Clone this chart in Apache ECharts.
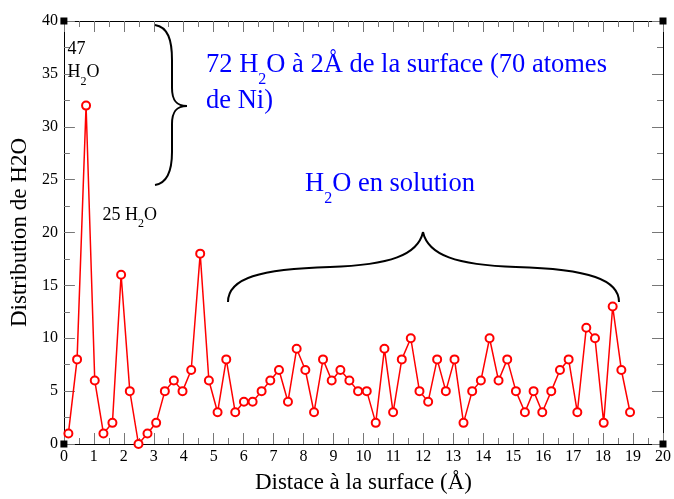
<!DOCTYPE html>
<html><head><meta charset="utf-8">
<script src="https://cdn.jsdelivr.net/npm/echarts@6/dist/echarts.min.js"></script>
<style>html,body{margin:0;padding:0;background:#fff}#c{width:674px;height:499px}</style>
</head><body><div id="c"></div>
<script>
// Data
const distances = [0.15,0.44,0.74,1.03,1.32,1.62,1.91,2.20,2.49,2.79,3.08,3.37,3.67,3.96,4.25,4.55,4.84,5.13,5.42,5.72,6.01,6.30,6.60,6.89,7.18,7.48,7.77,8.06,8.35,8.65,8.94,9.23,9.53,9.82,10.11,10.41,10.70,10.99,11.28,11.58,11.87,12.16,12.46,12.75,13.04,13.34,13.63,13.92,14.21,14.51,14.80,15.09,15.39,15.68,15.97,16.27,16.56,16.85,17.14,17.44,17.73,18.02,18.32,18.61,18.90];
const counts = [1,8,32,6,1,2,16,5,0,1,2,5,6,5,7,18,6,3,8,3,4,4,5,6,7,4,9,7,3,8,6,7,6,5,5,2,9,3,8,10,5,4,8,5,8,2,5,6,10,6,8,5,3,5,3,5,7,8,3,11,10,2,13,7,3];
const xMin = 0, xMax = 20, xStep = 1;
const yMin = 0, yMax = 40, yStep = 5;
const xTitle = 'Distace à la surface (Å)';
const yTitle = 'Distribution de H2O';

const FONT = 'Liberation Serif';
const chart = echarts.init(document.getElementById('c'), null, {renderer: 'canvas'});

function axisCommon(showLabels) {
  return {
    type: 'value',
    axisLine: {show: true, onZero: false, lineStyle: {color: '#000', width: 1}},
    axisTick: {show: true, inside: true, length: 11, lineStyle: {color: '#777', width: 1}},
    minorTick: {show: true, splitNumber: 2, length: 6, lineStyle: {color: '#777', width: 1}},
    splitLine: {show: false},
    minorSplitLine: {show: false},
    axisLabel: {show: showLabels, color: '#000', fontFamily: FONT, fontSize: 16},
  };
}

const option = {
  animation: false,
  backgroundColor: '#fff',
  grid: {left: 58, right: 9, top: 21, bottom: 50, containLabel: false},
  xAxis: [
    Object.assign(axisCommon(true), {min: xMin, max: xMax, interval: xStep, position: 'bottom',
      axisLabel: {show: true, color: '#000', fontFamily: FONT, fontSize: 16, margin: 5},
      name: xTitle, nameLocation: 'middle', nameGap: 27,
      nameTextStyle: {color: '#000', fontFamily: FONT, fontSize: 23}}),
    Object.assign(axisCommon(false), {min: xMin, max: xMax, interval: xStep, position: 'top'})
  ],
  yAxis: [
    Object.assign(axisCommon(true), {min: yMin, max: yMax, interval: yStep, position: 'left',
      axisLabel: {show: true, color: '#000', fontFamily: FONT, fontSize: 16, margin: 6},
      name: yTitle, nameLocation: 'middle', nameGap: 30,
      nameTextStyle: {color: '#000', fontFamily: FONT, fontSize: 23}}),
    Object.assign(axisCommon(false), {min: yMin, max: yMax, interval: yStep, position: 'right'})
  ],
  series: [{
    type: 'line',
    xAxisIndex: 0, yAxisIndex: 0,
    data: distances.map((x, i) => [x, counts[i]]),
    symbol: 'emptyCircle',
    symbolSize: 8,
    lineStyle: {color: '#ff0000', width: 1.5},
    itemStyle: {color: '#ff0000', borderColor: '#ff0000', borderWidth: 1.5},
    z: 3
  }]
};
chart.setOption(option);

// --- annotations ---
const mctx = document.createElement('canvas').getContext('2d');
function measure(t, size) { mctx.font = size + 'px "' + FONT + '"'; return mctx.measureText(t).width; }
function run(x, baseline, parts, color) {
  const els = [];
  let cx = x;
  parts.forEach(p => {
    const size = p.size;
    const b = baseline + (p.dy || 0);
    els.push({type: 'text', x: cx, y: b - 0.3375 * size, z: 10,
      style: {text: p.t, fill: color, font: size + 'px "' + FONT + '"', align: 'left', verticalAlign: 'middle', lineHeight: size}});
    cx += measure(p.t, size);
  });
  return els;
}
const blue = '#0000ff';
let g = [];
g = g.concat(run(67.5, 55, [{t: '47', size: 18}], '#000'));
g = g.concat(run(67.5, 78.5, [{t: 'H', size: 18}, {t: '2', size: 12, dy: 7}, {t: 'O', size: 18}], '#000'));
g = g.concat(run(102.5, 221.5, [{t: '25 H', size: 18}, {t: '2', size: 12, dy: 6.5}, {t: 'O', size: 18}], '#000'));
g = g.concat(run(206, 74, [{t: '72 H', size: 26.5}, {t: '2', size: 16, dy: 11}, {t: 'O à 2Å de la surface (70 atomes', size: 26.5}], blue));
g = g.concat(run(206, 110, [{t: 'de Ni)', size: 26.5}], blue));
g = g.concat(run(305, 193, [{t: 'H', size: 26.5}, {t: '2', size: 16, dy: 11}, {t: 'O en solution', size: 26.5}], blue));

// braces (cubic segments + straight parts)
const braceStyle = {fill: 'none', stroke: '#000', lineWidth: 2};
function bez(a, c1, c2, b) {
  return {type: 'bezierCurve', z: 10, shape: {x1: a[0], y1: a[1], cpx1: c1[0], cpy1: c1[1], cpx2: c2[0], cpy2: c2[1], x2: b[0], y2: b[1]}, style: braceStyle};
}
function seg(a, b) {
  return {type: 'line', z: 10, shape: {x1: a[0], y1: a[1], x2: b[0], y2: b[1]}, style: braceStyle};
}
g.push(bez([155,25],[168,27],[172,40],[172,60]));
g.push(seg([172,60],[172,88]));
g.push(bez([172,88],[172,100],[176,106],[187,106]));
g.push(bez([187,106],[176,106],[172,112],[172,124]));
g.push(seg([172,124],[172,152]));
g.push(bez([172,152],[172,170],[168,183],[155,185]));

g.push(bez([228,302],[228,278],[260,269],[330,267]));
g.push(bez([330,267],[390,265],[418,255],[423,232]));
g.push(bez([423,232],[428,255],[456,265],[516,267]));
g.push(bez([516,267],[590,269],[619,280],[619,302]));

// corner squares of the frame
[[xMin, yMin], [xMin, yMax], [xMax, yMin], [xMax, yMax]].forEach(c => {
  const p = chart.convertToPixel({xAxisIndex: 0, yAxisIndex: 0}, c);
  g.push({type: 'rect', z: 11, shape: {x: p[0] - 3.5, y: p[1] - 3.5, width: 7, height: 7}, style: {fill: '#000'}});
});

chart.setOption({graphic: g});
</script>
</body></html>
